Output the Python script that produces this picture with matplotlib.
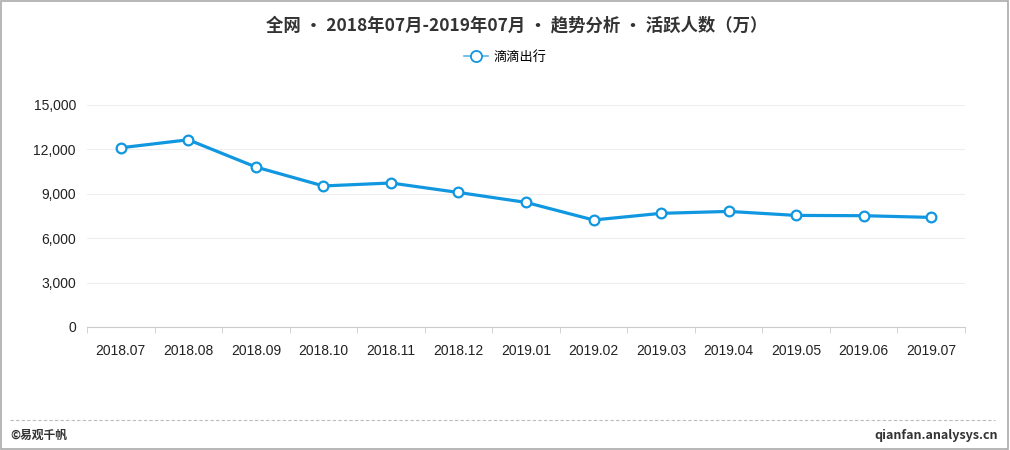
import numpy as np
import matplotlib.pyplot as plt
from matplotlib.patches import Rectangle
from matplotlib.lines import Line2D

plt.rcParams['font.family'] = ['Noto Sans CJK SC', 'DejaVu Sans']

months = ["2018.07", "2018.08", "2018.09", "2018.10", "2018.11", "2018.12", "2019.01",
          "2019.02", "2019.03", "2019.04", "2019.05", "2019.06", "2019.07"]
didi = [12110, 12650, 10810, 9530, 9730, 9090, 8420, 7230, 7680, 7810, 7540, 7520, 7405]
yticks = [0, 3000, 6000, 9000, 12000, 15000]

title = "全网 • 2018年07月-2019年07月 • 趋势分析 • 活跃人数（万）"
series_name = "滴滴出行"
blue = "#1197e0"
tick_font = ['Liberation Sans', 'DejaVu Sans']

fig = plt.figure(figsize=(10.1, 4.5), dpi=100)
ax = fig.add_axes([87/1010, 1-327/450, (965-87)/1010, (327-105)/450])

x = np.arange(len(months))
ax.plot(x, didi, color=blue, lw=2.3, marker='o', ms=7, mfc='white', mec=blue, mew=1.6, zorder=3)

ax.set_xlim(-0.5, len(months) - 0.5)
ax.set_ylim(0, 15000)
ax.set_yticks(yticks)
ax.set_yticklabels(["{:,}".format(v) for v in yticks], family=tick_font, fontsize=10, color='#222222')
ax.set_xticks(x)
ax.set_xticklabels(months, family=tick_font, fontsize=10, color='#222222')
ax.tick_params(axis='x', which='major', length=0, pad=12)
ax.set_xticks(np.arange(-0.5, len(months)), minor=True)
ax.tick_params(axis='x', which='minor', length=4, color='#cccccc')
ax.tick_params(axis='y', length=0, pad=8)
ax.grid(axis='y', color='#eeeeee', lw=0.8)
ax.set_axisbelow(True)
for s in ['top', 'right', 'left']:
    ax.spines[s].set_visible(False)
ax.spines['bottom'].set_color('#cccccc')

fig.text(0.512, 1-25/450, title, ha='center', va='center', fontsize=12.5, fontweight='bold', color='#333333')
leg = [Line2D([0], [0], color='#5ab4ea', lw=1.2, marker='o', ms=8, mfc='white', mec=blue, mew=1.3)]
fig.legend(leg, [series_name], loc='center', bbox_to_anchor=(0.5, 1-57/450), frameon=False,
           fontsize=9.5, handlelength=1.8, handletextpad=0.4)

# footer
fig.add_artist(Line2D([10/1010, 995/1010], [1-420/450, 1-420/450], color='#bbbbbb', lw=0.8, ls=(0, (3, 2))))
fig.text(10/1010, 1-435/450, "©易观千帆", ha='left', va='center', fontsize=8.5, fontweight='bold', color='#333333')
fig.text(998/1010, 1-435/450, "qianfan.analysys.cn", ha='right', va='center', fontsize=9, fontweight='bold', color='#333333')
fig.add_artist(Rectangle((0.001, 0.002), 0.997, 0.995, transform=fig.transFigure, fill=False, ec='#aaaaaa', lw=1.2))

fig.savefig("out.png", dpi=100)
